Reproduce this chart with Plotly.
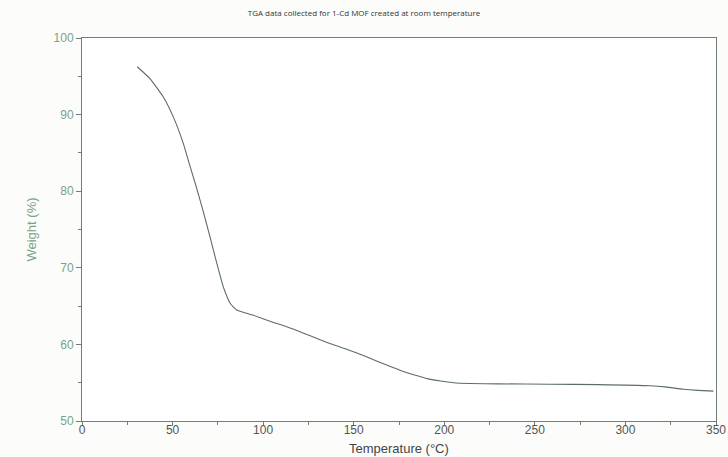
import plotly.graph_objects as go

temperature = [30.5, 37.5, 44.9, 50.4, 55.9, 59.6, 63.3, 67.0, 70.7, 74.4, 78.0, 80.3, 81.7, 83.5, 85.4, 89, 94.6, 104, 113, 122, 131.4, 140, 149.8, 159, 168.2, 177, 186.6, 191, 195.8, 200, 205, 214, 230, 258.4, 285, 313.6, 322, 332, 340, 348.6]
weight = [96.25, 94.7, 92.3, 89.7, 86.25, 83.3, 80.4, 77.3, 74.0, 70.6, 67.5, 66.1, 65.4, 64.9, 64.5, 64.2, 63.8, 63.0, 62.3, 61.5, 60.6, 59.85, 59.05, 58.2, 57.3, 56.5, 55.8, 55.5, 55.3, 55.15, 55.0, 54.9, 54.85, 54.8, 54.75, 54.6, 54.45, 54.15, 54.0, 53.9]

x_ticks = [0, 50, 100, 150, 200, 250, 300, 350]
y_ticks = [50, 60, 70, 80, 90, 100]

FONT = "Liberation Sans"
axis_col = "#6f7f74"

fig = go.Figure()
fig.add_trace(go.Scatter(x=temperature, y=weight, mode="lines",
                         line=dict(color="#5b6e63", width=1.1, shape="spline", smoothing=0.5),
                         showlegend=False, hoverinfo="skip"))
# invisible helper trace bound to the label-only x axis (keeps labels close to the axis line)
fig.add_trace(go.Scatter(x=[temperature[0]], y=[weight[0]], xaxis="x2", mode="markers",
                         marker=dict(opacity=0), showlegend=False, hoverinfo="skip"))

fig.update_layout(
    width=728, height=457,
    margin=dict(l=82, r=12, t=38, b=36, autoexpand=False),
    paper_bgcolor="#fcfcfb", plot_bgcolor="#ffffff",
    font=dict(family=FONT),
    title=dict(text="TGA data collected for 1-Cd MOF created at room temperature",
               x=0.5, xanchor="center", y=0.971, yanchor="middle",
               font=dict(size=8, color="#333333", family="Open Sans")),
    annotations=[dict(text="Temperature (°C)", xref="paper", yref="paper", x=0.5, y=-0.073,
                      xanchor="center", yanchor="middle", showarrow=False,
                      font=dict(size=13, color="#444444", family=FONT))],
    xaxis=dict(range=[0, 350], tickvals=x_ticks, showticklabels=False, automargin=False,
               showgrid=False, zeroline=False, showline=True, linecolor=axis_col, linewidth=1, mirror=True,
               ticks="outside", ticklen=4, tickcolor=axis_col,
               minor=dict(dtick=25, ticks="outside", ticklen=3, tickcolor=axis_col)),
    xaxis2=dict(overlaying="x", anchor="y", side="bottom", range=[0, 350],
                tickvals=x_ticks, ticktext=[str(v) for v in x_ticks],
                showgrid=False, zeroline=False, showline=False, ticks="", automargin=False,
                tickfont=dict(size=12, color="#555555", family=FONT)),
    yaxis=dict(range=[50, 100], tickvals=y_ticks, ticktext=[str(v) for v in y_ticks], automargin=False,
               showgrid=False, zeroline=False, showline=True, linecolor=axis_col, linewidth=1, mirror=True,
               ticks="outside", ticklen=5, tickcolor=axis_col,
               tickfont=dict(size=12, color="#7aa386", family=FONT),
               minor=dict(dtick=5, ticks="outside", ticklen=3, tickcolor=axis_col),
               title=dict(text="Weight (%)", font=dict(size=13, color="#7aa386", family=FONT), standoff=14)),
)
fig.write_html("out.html")
